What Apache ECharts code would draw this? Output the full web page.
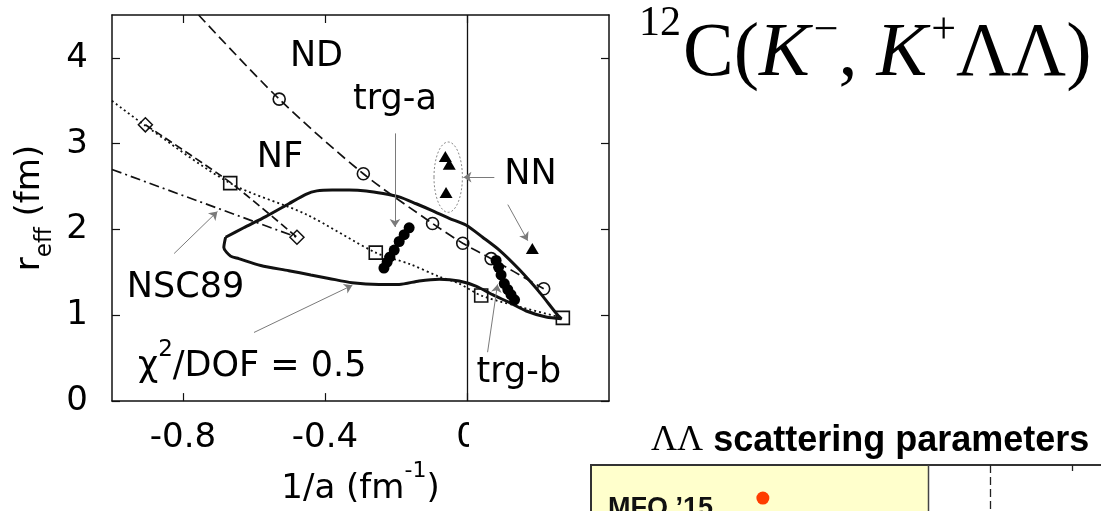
<!DOCTYPE html>
<html>
<head>
<meta charset="utf-8">
<script src="https://cdn.jsdelivr.net/npm/echarts@6/dist/echarts.min.js"></script>
<style>
  html, body { margin: 0; padding: 0; background: #fff; }
  #chart { width: 1101px; height: 511px; }
</style>
</head>
<body>
<div id="chart"></div>
<script>
// ---- values (x = 1/a in fm^-1, y = r_eff in fm) ----
const xTicks = [-0.8, -0.4, 0];
const yTicks = [0, 1, 2, 3, 4];

// ND model: dashed curve and its open-circle points
const ndCurve = [[-0.756, 4.5], [-0.529, 3.52], [-0.292, 2.65], [-0.097, 2.07], [-0.012, 1.84], [0.068, 1.66], [0.216, 1.31]];
const ndPoints = [[-0.529, 3.52], [-0.292, 2.65], [-0.097, 2.07], [-0.012, 1.84], [0.068, 1.66], [0.216, 1.31]];

// NF model: dotted curve and its square points
const nfCurve = [[-1.0, 3.50], [-0.906, 3.21], [-0.667, 2.54], [-0.455, 2.18], [-0.257, 1.73], [-0.163, 1.60], [-0.078, 1.45], [-0.022, 1.37], [0.040, 1.23], [0.157, 1.09], [0.27, 0.97]];
const nfPoints = [[-0.667, 2.54], [-0.257, 1.73], [0.040, 1.23], [0.27, 0.97]];

// dashed curve with diamond points
const diamondCurve = [[-0.906, 3.22], [-0.667, 2.55], [-0.479, 1.91]];
const diamondPoints = [[-0.906, 3.22], [-0.479, 1.91]];

// NSC89: dash-dot line
const nsc89Curve = [[-1.0, 2.70], [-0.816, 2.42], [-0.479, 1.91]];

// chi^2/DOF = 0.5 contour (closed)
const chi2Contour = [
  [-0.680, 1.91], [-0.629, 2.02], [-0.567, 2.15], [-0.502, 2.30], [-0.454, 2.41], [-0.423, 2.45],
  [-0.380, 2.46], [-0.332, 2.46], [-0.284, 2.45], [-0.236, 2.42], [-0.191, 2.38], [-0.143, 2.30],
  [-0.098, 2.22], [-0.050, 2.13], [-0.002, 2.05], [0.044, 1.91], [0.091, 1.76], [0.148, 1.53],
  [0.204, 1.27], [0.252, 1.02], [0.266, 0.96], [0.223, 0.98], [0.167, 1.05], [0.119, 1.15],
  [0.072, 1.24], [0.025, 1.34], [-0.022, 1.40], [-0.078, 1.42], [-0.135, 1.40], [-0.191, 1.36],
  [-0.248, 1.36], [-0.324, 1.38], [-0.389, 1.43], [-0.440, 1.47], [-0.502, 1.52], [-0.581, 1.58],
  [-0.643, 1.66], [-0.666, 1.69], [-0.685, 1.79], [-0.680, 1.91]
];

// fitted potentials (filled circles)
const trgA = [[-0.163, 2.02], [-0.177, 1.94], [-0.191, 1.86], [-0.205, 1.76], [-0.217, 1.68], [-0.225, 1.62], [-0.234, 1.55]];
const trgB = [[0.082, 1.64], [0.089, 1.56], [0.096, 1.47], [0.105, 1.37], [0.115, 1.30], [0.124, 1.24], [0.134, 1.18]];

// NN triangles
const nnPoints = [[-0.061, 2.85], [-0.050, 2.76], [-0.059, 2.43], [0.184, 1.78]];
// dotted ellipse around the NN group: centre x, centre y, half-width, half-height
const nnEllipse = [[-0.053, 2.61, 0.040, 0.41]];

// pointer arrows: from (x1, y1) to (x2, y2)
const pointerArrows = [
  [-0.203, 3.12, -0.203, 2.03],
  [0.058, 0.57, 0.086, 1.36],
  [-0.825, 1.72, -0.703, 2.21],
  [-0.600, 0.80, -0.323, 1.35],
  [0.077, 2.61, -0.010, 2.61],
  [0.115, 2.29, 0.171, 1.87]
];

// annotation texts and where they sit
const annotationTexts = ['ND', 'NF', 'trg-a', 'NN', 'trg-b', 'NSC89', '{a|χ}{s|2}{a|/DOF = 0.5}'];
const annotationAt = [[-0.424, 4.01], [-0.527, 2.83], [-0.203, 3.51], [0.179, 2.64], [0.146, 0.33], [-0.793, 1.32], [-0.605, 0.46]];

// second panel (ΛΛ scattering parameters), label column
const panelLabels = ['MFO ’15'];
const panelPoints = [[0.51, 0.72]];

const PLOT_FONT = '"DejaVu Sans", Verdana, sans-serif';
const SANS = '"Liberation Sans", Arial, Helvetica, sans-serif';
const SERIF = '"Liberation Serif", "Times New Roman", serif';
const INK = '#111';

const chart = echarts.init(document.getElementById('chart'), null, { renderer: 'canvas' });

const frameAxis = { onZero: false, lineStyle: { color: INK, width: 1.5 } };
const innerTick = (vals) => ({ show: true, inside: true, length: 8, customValues: vals, lineStyle: { color: INK, width: 1.2 } });
const solid = { opacity: 1 };

const option = {
  animation: false,
  backgroundColor: '#fff',
  title: [
    {
      text: '{s|12}{r|C(}{i|K}{k|−}{r|, }{i|K}{k|+}{r|ΛΛ)}',
      left: 634, top: -4,
      textStyle: {
        fontWeight: 'normal',
        rich: {
          r: { fontFamily: SERIF, fontWeight: 'normal', fontSize: 76, lineHeight: 92, color: '#000', verticalAlign: 'bottom' },
          i: { fontFamily: SERIF, fontWeight: 'normal', fontStyle: 'italic', fontSize: 76, lineHeight: 92, color: '#000', verticalAlign: 'bottom' },
          s: { fontFamily: SERIF, fontWeight: 'normal', fontSize: 42, lineHeight: 58, color: '#000', verticalAlign: 'top', padding: [2, 2, 0, 0] },
          k: { fontFamily: SERIF, fontWeight: 'normal', fontSize: 44, lineHeight: 56, color: '#000', verticalAlign: 'top', padding: [8, 0, 0, 4] }
        }
      }
    },
    {
      text: '{g|ΛΛ}{b| scattering parameters}',
      left: 646, top: 414,
      textStyle: {
        rich: {
          g: { fontFamily: SERIF, fontWeight: 'normal', fontSize: 36, lineHeight: 44, color: '#000' },
          b: { fontFamily: SANS, fontWeight: 'bold', fontSize: 36, lineHeight: 44, color: '#000' }
        }
      }
    }
  ],
  grid: [
    { left: 112, top: 15, width: 497, height: 395 },
    { left: 591, top: 465, width: 337, height: 46 }
  ],
  xAxis: [
    {
      gridIndex: 0, type: 'value', min: -1.0, max: 0.4, position: 'bottom',
      axisLine: frameAxis, axisTick: innerTick(xTicks),
      axisLabel: { customValues: xTicks, fontFamily: PLOT_FONT, fontSize: 34, color: '#000', margin: 20 },
      splitLine: { show: false },
      name: '{a|1/a (fm}{s|-1}{a|)}', nameLocation: 'middle', nameGap: 52,
      nameTextStyle: {
        rich: {
          a: { fontFamily: PLOT_FONT, fontSize: 34, lineHeight: 46, color: '#000', verticalAlign: 'bottom' },
          s: { fontFamily: PLOT_FONT, fontSize: 22, lineHeight: 22, color: '#000', verticalAlign: 'top' }
        }
      }
    },
    {
      gridIndex: 0, type: 'value', min: -1.0, max: 0.4, position: 'top',
      axisLine: frameAxis, axisTick: innerTick(xTicks), axisLabel: { show: false }, splitLine: { show: false }
    },
    { gridIndex: 1, type: 'value', min: 0, max: 1, show: false }
  ],
  yAxis: [
    {
      gridIndex: 0, type: 'value', min: 0, max: 4.5, interval: 1, position: 'left',
      axisLine: frameAxis, axisTick: innerTick(yTicks),
      axisLabel: { customValues: yTicks, fontFamily: PLOT_FONT, fontSize: 34, color: '#000', margin: 24 },
      splitLine: { show: false },
      name: '{a|r}{s|eff}{a| (fm)}', nameLocation: 'middle', nameRotate: 90, nameGap: 55,
      nameTextStyle: {
        rich: {
          a: { fontFamily: PLOT_FONT, fontSize: 34, lineHeight: 44, color: '#000', verticalAlign: 'top' },
          s: { fontFamily: PLOT_FONT, fontSize: 23, lineHeight: 22, color: '#000', verticalAlign: 'bottom' }
        }
      }
    },
    {
      gridIndex: 0, type: 'value', min: 0, max: 4.5, interval: 1, position: 'right',
      axisLine: frameAxis, axisTick: innerTick(yTicks), axisLabel: { show: false }, splitLine: { show: false }
    },
    { gridIndex: 1, type: 'value', min: 0, max: 1, inverse: true, show: false }
  ],
  series: [
    {
      name: 'chi2 contour', type: 'line', data: chi2Contour, showSymbol: false, smooth: 0.25,
      lineStyle: { color: INK, width: 3 }, z: 3,
      markLine: {
        silent: true, symbol: 'none', label: { show: false },
        lineStyle: { color: INK, width: 1.3, type: 'solid' },
        data: [{ xAxis: 0 }]
      }
    },
    {
      name: 'ND', type: 'line', data: ndCurve, showSymbol: false, smooth: 0.3,
      lineStyle: { color: INK, width: 1.7, type: [10, 5] }, z: 4
    },
    {
      name: 'ND points', type: 'scatter', data: ndPoints, symbol: 'circle', symbolSize: 12,
      itemStyle: { color: 'rgba(0,0,0,0)', borderColor: INK, borderWidth: 1.6, opacity: 1 }, z: 6
    },
    {
      name: 'NF', type: 'line', data: nfCurve, showSymbol: false, smooth: 0.3,
      lineStyle: { color: INK, width: 1.8, type: [2, 3] }, z: 4
    },
    {
      name: 'NF points', type: 'scatter', data: nfPoints, symbol: 'rect', symbolSize: 13,
      itemStyle: { color: 'rgba(0,0,0,0)', borderColor: INK, borderWidth: 1.6, opacity: 1 }, z: 6
    },
    {
      name: 'diamond curve', type: 'line', data: diamondCurve, showSymbol: false, smooth: 0.2,
      lineStyle: { color: INK, width: 1.7, type: [8, 4] }, z: 4
    },
    {
      name: 'diamond points', type: 'scatter', data: diamondPoints, symbol: 'diamond', symbolSize: [14, 14],
      itemStyle: { color: 'rgba(0,0,0,0)', borderColor: INK, borderWidth: 1.5, opacity: 1 }, z: 6
    },
    {
      name: 'NSC89', type: 'line', data: nsc89Curve, showSymbol: false,
      lineStyle: { color: INK, width: 1.7, type: [10, 4, 2, 4] }, z: 4
    },
    {
      name: 'trg-a', type: 'scatter', data: trgA, symbol: 'circle', symbolSize: 11,
      itemStyle: { color: '#000', opacity: 1 }, z: 7
    },
    {
      name: 'trg-b', type: 'scatter', data: trgB, symbol: 'circle', symbolSize: 11,
      itemStyle: { color: '#000', opacity: 1 }, z: 7
    },
    {
      name: 'NN', type: 'scatter', data: nnPoints, symbol: 'triangle', symbolSize: [13, 11],
      itemStyle: { color: '#000', opacity: 1 }, z: 7
    },
    {
      name: 'NN group', type: 'custom', data: nnEllipse, z: 5, silent: true,
      renderItem: function (params, api) {
        const c = api.coord([api.value(0), api.value(1)]);
        const s = api.size([api.value(2), api.value(3)]);
        return {
          type: 'ellipse',
          shape: { cx: c[0], cy: c[1], rx: s[0], ry: s[1] },
          style: { fill: 'none', stroke: '#888', lineWidth: 1, lineDash: [2, 2] }
        };
      }
    },
    {
      name: 'pointers', type: 'lines', coordinateSystem: 'cartesian2d', z: 5, silent: true,
      symbol: ['none', 'arrow'], symbolSize: 8,
      lineStyle: { color: '#7a7a7a', width: 1, opacity: 1 },
      data: pointerArrows.map(a => ({ coords: [[a[0], a[1]], [a[2], a[3]]] }))
    },
    {
      name: 'annotations', type: 'scatter', symbolSize: 0, silent: true, z: 8,
      itemStyle: solid,
      data: annotationAt.map((p, i) => ({ value: p, text: annotationTexts[i] })),
      label: {
        show: true, position: 'inside',
        formatter: p => p.data.text,
        fontFamily: PLOT_FONT, fontSize: 35, color: '#000',
        rich: {
          a: { fontFamily: PLOT_FONT, fontSize: 35, lineHeight: 46, color: '#000', verticalAlign: 'bottom' },
          s: { fontFamily: PLOT_FONT, fontSize: 23, lineHeight: 24, color: '#000', verticalAlign: 'top' }
        }
      }
    },
    {
      name: 'panel', type: 'scatter', xAxisIndex: 2, yAxisIndex: 2, data: panelPoints,
      symbol: 'circle', symbolSize: 13, itemStyle: { color: '#ff3d00', opacity: 1 }, z: 9
    }
  ],
  graphic: [
    // hides the tick labels right of x = 0 below the frame
    { type: 'rect', z: 100, shape: { x: 469, y: 413, width: 130, height: 50 }, style: { fill: '#fff' } },
    // second panel frame
    { type: 'rect', z: 1, shape: { x: 592, y: 466, width: 336, height: 50 }, style: { fill: '#ffffcc' } },
    { type: 'line', z: 2, shape: { x1: 590, y1: 465, x2: 1101, y2: 465 }, style: { stroke: '#333', lineWidth: 2 } },
    { type: 'line', z: 2, shape: { x1: 591, y1: 465, x2: 591, y2: 511 }, style: { stroke: '#333', lineWidth: 2 } },
    { type: 'line', z: 2, shape: { x1: 928.5, y1: 465, x2: 928.5, y2: 511 }, style: { stroke: '#444', lineWidth: 1.5 } },
    { type: 'line', z: 2, shape: { x1: 990.5, y1: 465, x2: 990.5, y2: 511 }, style: { stroke: '#222', lineWidth: 1.3, lineDash: [8, 4] } },
    { type: 'line', z: 2, shape: { x1: 1072.5, y1: 465, x2: 1072.5, y2: 471 }, style: { stroke: '#222', lineWidth: 1.3 } },
    { type: 'text', z: 3, x: 608, y: 495, style: { text: panelLabels[0], font: 'bold 27px ' + SANS, fill: '#111' } }
  ]
};

chart.setOption(option);
</script>
</body>
</html>
